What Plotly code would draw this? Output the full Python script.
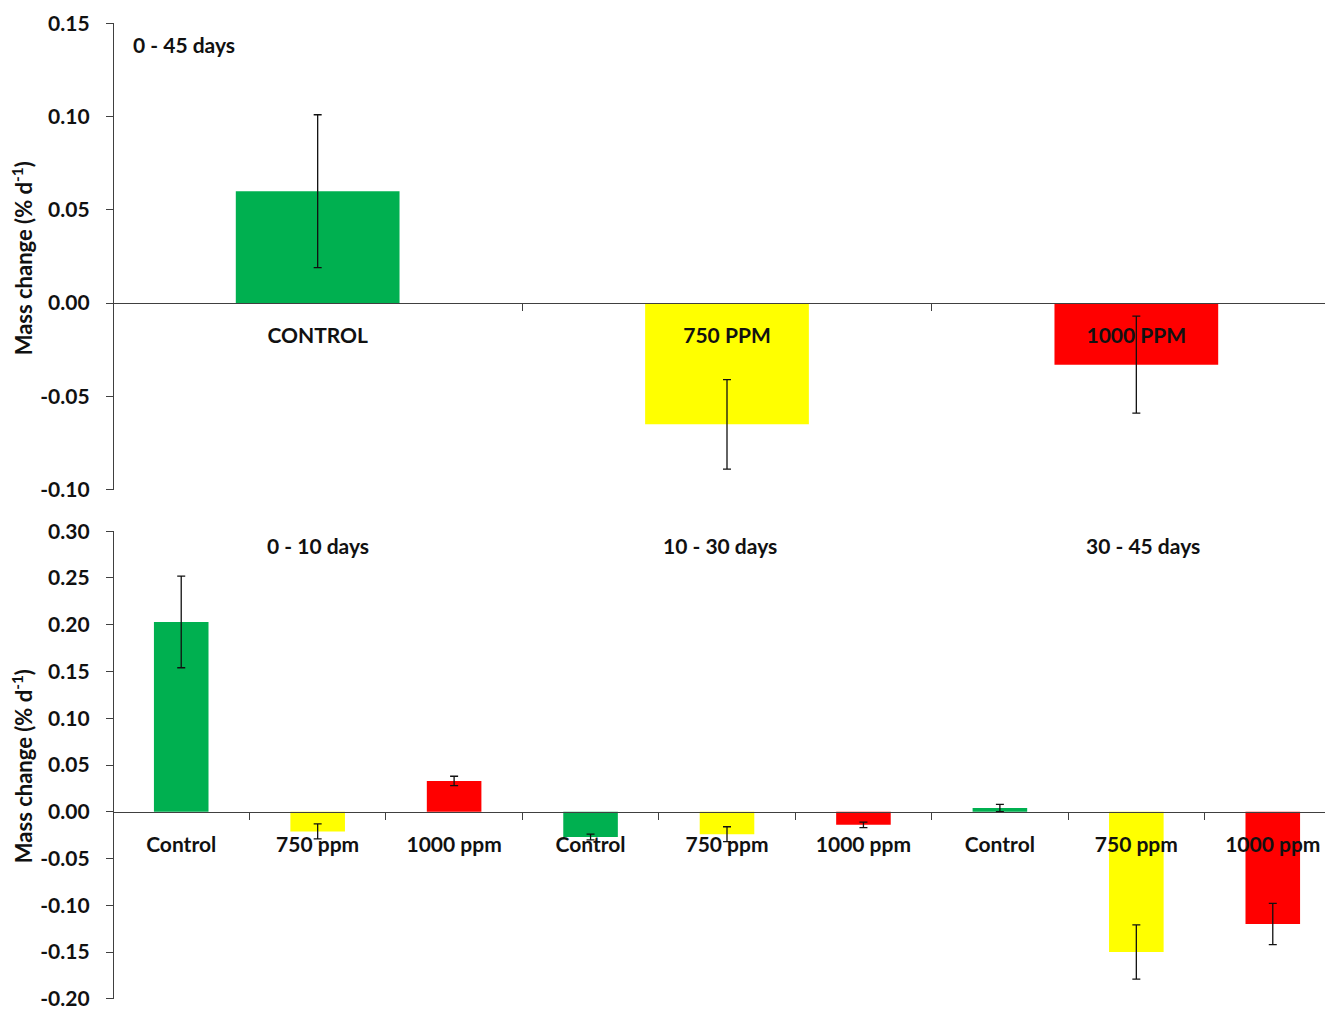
import plotly.graph_objects as go

# ---- data ----
top_labels = ["CONTROL", "750 PPM", "1000 PPM"]
top_values = [0.060, -0.065, -0.033]
top_errors = [0.041, 0.024, 0.026]
top_colors = ["#00B050", "#FFFF00", "#FF0000"]

bot_labels = ["Control", "750 ppm", "1000 ppm",
              "Control", "750 ppm", "1000 ppm",
              "Control", "750 ppm", "1000 ppm"]
bot_values = [0.203, -0.021, 0.033, -0.027, -0.024, -0.014, 0.004, -0.150, -0.120]
bot_errors = [0.049, 0.008, 0.005, 0.003, 0.008, 0.003, 0.004, 0.029, 0.022]
bot_colors = ["#00B050", "#FFFF00", "#FF0000"] * 3
group_labels = ["0 - 10 days", "10 - 30 days", "30 - 45 days"]
top_period = "0 - 45 days"

top_yticks = [-0.10, -0.05, 0.00, 0.05, 0.10, 0.15]
top_yticktext = ["-0.10", "-0.05", "0.00", "0.05", "0.10", "0.15"]
bot_yticks = [-0.20, -0.15, -0.10, -0.05, 0.00, 0.05, 0.10, 0.15, 0.20, 0.25, 0.30]
bot_yticktext = ["-0.20", "-0.15", "-0.10", "-0.05", "0.00", "0.05",
                 "0.10", "0.15", "0.20", "0.25", "0.30"]

FONT = "Lato"
AX = "#404040"

top_x = list(range(len(top_labels)))
bot_x = list(range(len(bot_labels)))

fig = go.Figure()
fig.add_trace(go.Bar(
    x=top_x, y=top_values, width=0.4, marker=dict(color=top_colors, line=dict(width=0)),
    error_y=dict(type="data", array=top_errors, color="#111", thickness=1.3, width=4),
    xaxis="x", yaxis="y", showlegend=False))
fig.add_trace(go.Bar(
    x=bot_x, y=bot_values, width=0.4, marker=dict(color=bot_colors, line=dict(width=0)),
    error_y=dict(type="data", array=bot_errors, color="#111", thickness=1.3, width=4),
    xaxis="x2", yaxis="y2", showlegend=False))

top_dom = [0.5215, 1.0]
bot_dom = [0.0, 0.4795]
top_rng = [-0.1002, 0.1502]
bot_rng = [-0.2002, 0.3002]
top_zero = top_dom[0] + (0 - top_rng[0]) / (top_rng[1] - top_rng[0]) * (top_dom[1] - top_dom[0])
bot_zero = bot_dom[0] + (0 - bot_rng[0]) / (bot_rng[1] - bot_rng[0]) * (bot_dom[1] - bot_dom[0])

tickfont = dict(family=FONT, size=21, color="#111", weight=700)

fig.update_layout(
    width=1333, height=1009,
    margin=dict(l=105, r=0, t=15, b=18),
    plot_bgcolor="white", paper_bgcolor="white",
    xaxis=dict(
        domain=[0, 1], anchor="free", position=top_zero, range=[-0.5, 2.5], automargin=False,
        tickmode="array", tickvals=top_x, ticktext=top_labels, ticks="",
        showline=True, linecolor=AX, linewidth=1.3, showgrid=False, zeroline=False,
        tickfont=tickfont, ticklabelstandoff=14,
        minor=dict(tickmode="array", tickvals=[0.5, 1.5], ticks="outside", ticklen=7,
                   tickcolor=AX, tickwidth=1.3, showgrid=False),
    ),
    yaxis=dict(
        domain=top_dom, range=top_rng, automargin=False,
        tickmode="array", tickvals=top_yticks, ticktext=top_yticktext,
        ticks="outside", ticklen=7, tickcolor=AX, tickwidth=1.3,
        showline=True, linecolor=AX, linewidth=1.3, showgrid=False, zeroline=False,
        tickfont=tickfont, ticklabelstandoff=12,
    ),
    xaxis2=dict(
        domain=[0, 1], anchor="free", position=bot_zero, range=[-0.5, 8.5], automargin=False,
        tickmode="array", tickvals=bot_x, ticktext=bot_labels, ticks="",
        showline=True, linecolor=AX, linewidth=1.3, showgrid=False, zeroline=False,
        tickfont=tickfont, ticklabelstandoff=14,
        minor=dict(tickmode="array", tickvals=[0.5, 1.5, 2.5, 3.5, 4.5, 5.5, 6.5, 7.5],
                   ticks="outside", ticklen=7, tickcolor=AX, tickwidth=1.3, showgrid=False),
    ),
    yaxis2=dict(
        domain=bot_dom, range=bot_rng, automargin=False,
        tickmode="array", tickvals=bot_yticks, ticktext=bot_yticktext,
        ticks="outside", ticklen=7, tickcolor=AX, tickwidth=1.3,
        showline=True, linecolor=AX, linewidth=1.3, showgrid=False, zeroline=False,
        tickfont=tickfont, ticklabelstandoff=12,
    ),
)
fig.layout.yaxis.anchor = "free"
fig.layout.yaxis.position = 0
fig.layout.yaxis2.anchor = "free"
fig.layout.yaxis2.position = 0

annfont = dict(family=FONT, size=21, color="#111", weight=700)
anns = [
    dict(text=top_period, xref="paper", yref="y domain", x=0.0145, y=0.955,
         xanchor="left", yanchor="middle", showarrow=False, font=annfont),
]
group_x = [1, 3.95, 7.05]
for gx, g in zip(group_x, group_labels):
    anns.append(dict(text=g, xref="x2", yref="y2 domain", x=gx, y=0.968,
                     xanchor="center", yanchor="middle", showarrow=False, font=annfont))
ytitle = "Mass change (% d<sup>-1</sup>)"
for yy in [0.759, 0.2387]:
    anns.append(dict(text=ytitle, xref="paper", yref="paper", x=-0.074, y=yy,
                     textangle=-90, xanchor="center", yanchor="middle", showarrow=False,
                     font=dict(family=FONT, size=22, color="#111", weight=700)))
fig.update_layout(annotations=anns)

fig.write_html("out.html")
